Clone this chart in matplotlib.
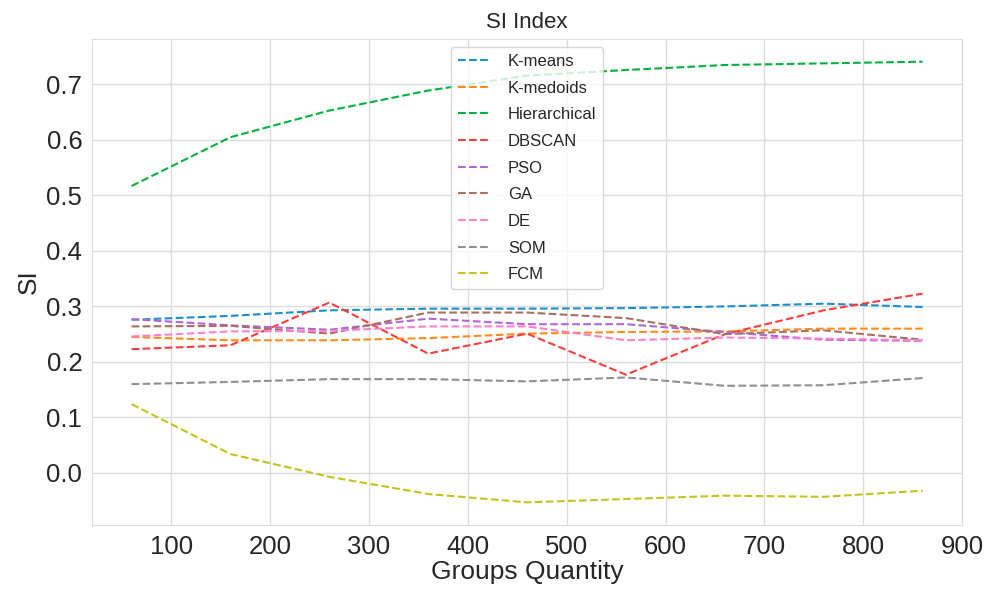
import matplotlib
matplotlib.use('Agg')
import matplotlib.pyplot as plt
import seaborn as sns

# data
groups = [60, 160, 260, 360, 460, 560, 660, 760, 860]

kmeans = [0.276, 0.283, 0.293, 0.296, 0.296, 0.297, 0.300, 0.305, 0.299]
kmedoids = [0.245, 0.239, 0.239, 0.243, 0.251, 0.254, 0.255, 0.260, 0.260]
hierarchical = [0.517, 0.605, 0.653, 0.689, 0.716, 0.726, 0.735, 0.738, 0.741]
dbscan = [0.223, 0.230, 0.307, 0.215, 0.251, 0.177, 0.250, 0.293, 0.323]
pso = [0.277, 0.266, 0.258, 0.278, 0.268, 0.268, 0.254, 0.240, 0.238]
ga = [0.264, 0.265, 0.251, 0.289, 0.289, 0.279, 0.250, 0.257, 0.240]
de = [0.246, 0.255, 0.256, 0.264, 0.264, 0.239, 0.244, 0.242, 0.239]
som = [0.160, 0.164, 0.169, 0.169, 0.165, 0.172, 0.157, 0.158, 0.171]
fcm = [0.124, 0.034, -0.007, -0.038, -0.053, -0.047, -0.041, -0.043, -0.032]

series = [
    ('K-means', kmeans, '#1a8fcf'),
    ('K-medoids', kmedoids, '#ff8c1a'),
    ('Hierarchical', hierarchical, '#00b33c'),
    ('DBSCAN', dbscan, '#ff3b3b'),
    ('PSO', pso, '#b066d9'),
    ('GA', ga, '#aa6f60'),
    ('DE', de, '#ff80cc'),
    ('SOM', som, '#8f8f8f'),
    ('FCM', fcm, '#c4c41a'),
]

sns.set_style('whitegrid')
plt.rcParams['font.family'] = ['Liberation Sans', 'DejaVu Sans']

fig = plt.figure(figsize=(9.96, 5.90), dpi=100)
ax = fig.add_axes([0.0924, 0.110, 0.8736, 0.824])

for name, vals, col in series:
    ax.plot(groups, vals, linestyle='--', color=col, linewidth=1.5, label=name)

ax.set_title('SI Index', fontsize=16, color='#262626', pad=8)
ax.set_xlabel('Groups Quantity', fontsize=19, color='#262626', labelpad=1)
ax.set_ylabel('SI', fontsize=19, color='#262626', labelpad=4)
ax.set_xticks([100, 200, 300, 400, 500, 600, 700, 800, 900])
ax.set_yticks([0.0, 0.1, 0.2, 0.3, 0.4, 0.5, 0.6, 0.7])
ax.set_xlim(20, 900)
ax.set_ylim(-0.094, 0.782)
ax.tick_params(labelsize=18.5, colors='#262626')

ax.grid(color='#dcdcdc', linewidth=1)
for s in ax.spines.values():
    s.set_color('#dcdcdc')

ax.legend(loc='upper center', fontsize=12, labelspacing=0.7,
          handlelength=2.0, handletextpad=1.0, borderaxespad=0.5)

fig.savefig('out.png', dpi=100)
